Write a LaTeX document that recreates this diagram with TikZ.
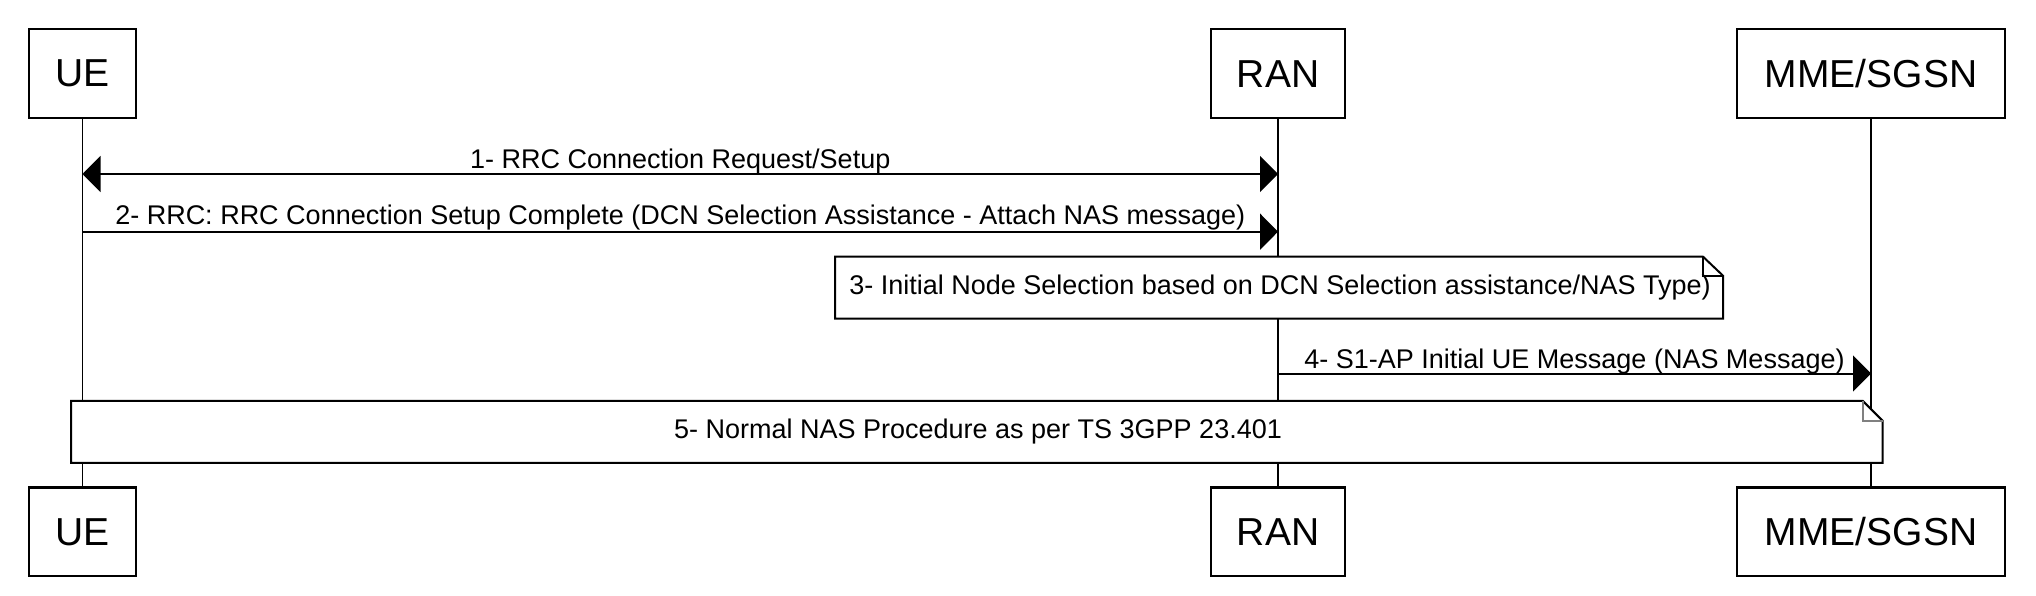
\documentclass[tikz,border=0pt]{standalone}
\usepackage{fontspec}
\setmainfont{Liberation Sans}
\usetikzlibrary{arrows.meta}
\begin{document}
\begin{tikzpicture}[x=1pt,y=-1pt,line width=2pt,
  actor/.style={draw,line width=2.2pt,minimum height=88.7pt,inner sep=0pt,font=\fontsize{39}{39}\selectfont},
  lbl/.style={font=\fontsize{27}{27}\selectfont,inner sep=0pt,anchor=base,yshift=5.5pt},
  notebox/.style={minimum height=60pt,inner sep=0pt},
  notetext/.style={font=\fontsize{27}{27}\selectfont,inner sep=0pt},
  notefill/.style={draw,fill=white,line width=2pt},
  msg/.style={line width=2pt,-{Triangle[length=18pt,width=36pt]}},
  msgboth/.style={line width=2pt,{Triangle[length=18pt,width=36pt]}-{Triangle[length=18pt,width=36pt]}},
  life/.style={line width=1.8pt}]
\useasboundingbox (0,0) rectangle (2036,596);
% top actors
\node[actor,minimum width=106.5pt] (ue1) at (82.5,73.7) {UE};
\node[actor,minimum width=134.4pt] (ran1) at (1278,73.7) {RAN};
\node[actor,minimum width=268pt] (mme1) at (1871,73.7) {MME/SGSN};
% bottom actors
\node[actor,minimum width=106.5pt] (ue2) at (82.5,531.9) {UE};
\node[actor,minimum width=134.4pt] (ran2) at (1278,531.9) {RAN};
\node[actor,minimum width=268pt] (mme2) at (1871,531.9) {MME/SGSN};
% lifelines
\draw[life] (ue1) -- (ue2);
\draw[life] (ran1) -- (ran2);
\draw[life] (mme1) -- (mme2);
% message rows
\coordinate (m1) at (0,174);
\coordinate (m2) at (0,231.7);
\coordinate (m4) at (0,373.5);
\draw[msgboth] (ue1|-m1) -- node[lbl] {1- RRC Connection Request/Setup} (ran1|-m1);
\draw[msg] (ue1|-m2) -- node[lbl,yshift=1.5pt] {2- RRC: RRC Connection Setup Complete (DCN Selection Assistance - Attach NAS message)} (ran1|-m2);
% note 3
\node[notebox,minimum width=886pt] (n3) at (1279,287.7) {};
\draw[notefill] (n3.north west) -- ([xshift=-20pt]n3.north east) -- ([yshift=-19pt]n3.north east) -- (n3.south east) -- (n3.south west) -- cycle;
\draw ([xshift=-20pt]n3.north east) |- ([yshift=-19pt]n3.north east);
\node[notetext] (n3t) at (1280,287.7) {3- Initial Node Selection based on DCN Selection assistance/NAS Type)};
% message 4
\draw[msg] (ran1|-m4) -- node[lbl] {4- S1-AP Initial UE Message (NAS Message)} (mme1|-m4);
% note 5
\node[notebox,minimum width=1809.7pt] (n5) at (976.85,431.85) {};
\draw[notefill] (n5.north west) -- ([xshift=-20pt]n5.north east) -- ([yshift=-20pt]n5.north east) -- (n5.south east) -- (n5.south west) -- cycle;
\draw[gray] ([xshift=-20pt]n5.north east) |- ([yshift=-20pt]n5.north east);
\node[notetext] (n5t) at (978,431.85) {5- Normal NAS Procedure as per TS 3GPP 23.401};
\end{tikzpicture}
\end{document}
